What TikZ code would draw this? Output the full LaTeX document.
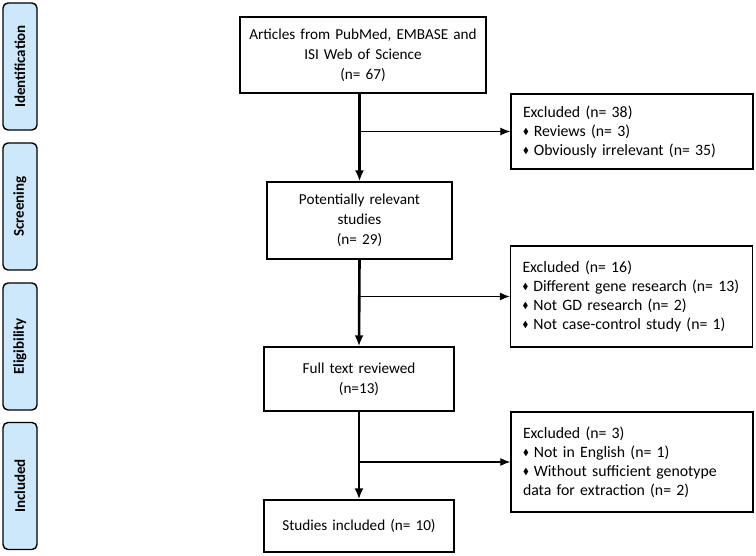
\documentclass[tikz,border=0pt]{standalone}
\usepackage{amssymb}
\usepackage{fontspec}
\setmainfont{Carlito}
\usetikzlibrary{arrows.meta}
\usetikzlibrary{calc}

\definecolor{stagefill}{RGB}{205,232,250}
\newcommand{\itm}{\raisebox{2pt}{\scalebox{0.55}{$\blacklozenge$}}\hspace{5pt}}

\begin{document}
\begin{tikzpicture}[x=1pt, y=1pt,
    box/.style={draw, line width=1.4pt, inner sep=0pt, align=center,
      font=\fontsize{15.2}{20}\selectfont},
    exbox/.style={draw, line width=1.4pt, inner xsep=12pt, inner ysep=0pt,
      minimum width=242pt, text width=218pt, align=left,
      font=\fontsize{15.8}{19}\selectfont},
    stage/.style={draw, line width=1.4pt, rounded corners=5pt, fill=stagefill,
      rotate=90, minimum width=127pt, minimum height=34pt, inner sep=0pt,
      font=\fontsize{15}{18}\selectfont\bfseries},
    mainarrow/.style={line width=2.6pt, -{Latex[length=11pt,width=9pt]}},
    sidearrow/.style={line width=1.1pt, -{Latex[length=10pt,width=8pt]}}]

      \useasboundingbox (0,0) rectangle (756,555);

      % phases on the left
      \foreach \lab/\yy [count=\i] in {Identification/488.5, Screening/348.5,
          Eligibility/208.5, Included/69}
        \node[stage] (stage\i) at (20,\yy) {\lab};

      % main column
      \node[box, minimum width=246pt, minimum height=76pt, text width=240pt]
        (articles) at (363,500) {Articles from PubMed, EMBASE and\\ISI Web of Science\\(n= 67)};
      \node[box, minimum width=185pt, minimum height=77pt, text width=180pt]
        (relevant) at (359.5,334.5) {Potentially relevant\\studies\\(n= 29)};
      \node[box, minimum width=190pt, minimum height=64pt, text width=184pt]
        (fulltext) at (359,176) {Full text reviewed\\(n=13)};
      \node[box, minimum width=190pt, minimum height=52pt, text width=184pt]
        (included) at (359,29) {Studies included (n= 10)};

      % excluded records
      \node[exbox, minimum height=75pt] (excl1) at (632,423.5)
        {Excluded (n= 38)\\\itm Reviews (n= 3)\\\itm Obviously irrelevant (n= 35)};
      \node[exbox, minimum height=101pt] (excl2) at (631.5,258.5)
        {Excluded (n= 16)\\\itm Different gene research (n= 13)\\\itm Not GD research (n= 2)\\\itm Not case-control study (n= 1)\\[4pt]};
      \node[exbox, minimum height=100pt] (excl3) at (632,93)
        {Excluded (n= 3)\\\itm Not in English (n= 1)\\\itm Without sufficient genotype\\data for extraction (n= 2)};

      \draw[mainarrow] (articles.south -| relevant.north) -- (relevant.north);
      \draw[mainarrow] (relevant.south) -- (fulltext.north);
      \draw[mainarrow] (fulltext.south) -- (included.north);

      \draw[sidearrow] (excl1.west -| relevant.north) -- (excl1.west);
      \draw[sidearrow] (excl2.west -| relevant.south) -- (excl2.west);
      \draw[sidearrow] (excl3.west -| fulltext.south) -- (excl3.west);
    \end{tikzpicture}
\end{document}
